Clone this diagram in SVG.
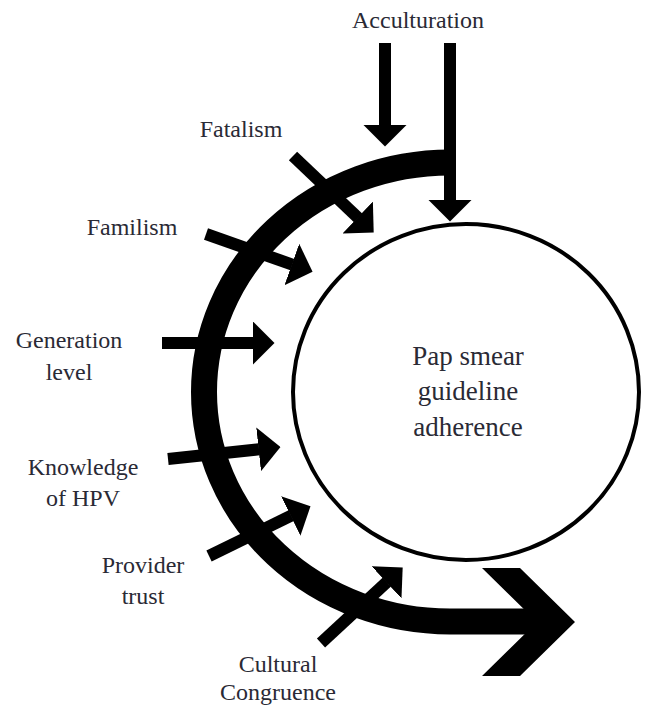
<svg xmlns="http://www.w3.org/2000/svg" width="645" height="706" viewBox="0 0 645 706">
  <style>
    .label { font-family: "Liberation Serif", "Times New Roman", serif; font-size: 24px; fill: #2a2a35; text-anchor: middle; }
    .center-label { font-family: "Liberation Serif", "Times New Roman", serif; font-size: 27px; fill: #2a2a35; text-anchor: middle; }
    .factor { stroke: #000; stroke-width: 12; fill: none; marker-end: url(#head); }
    .band { stroke: #000; stroke-width: 26; fill: none; }
  </style>
  <defs>
    <marker id="head" viewBox="0 0 22 44" refX="0.5" refY="22" markerWidth="22" markerHeight="44" markerUnits="userSpaceOnUse" orient="auto">
      <path d="M0,0 L22,22 L0,44 Z" fill="#000"/>
    </marker>
  </defs>

  <rect width="645" height="706" fill="#fff"/>

  <!-- central outcome -->
  <g id="node-adherence">
    <ellipse cx="466" cy="392" rx="173" ry="168" fill="#fff" stroke="#000" stroke-width="4"/>
    <text class="center-label" x="468" y="365">Pap smear</text>
    <text class="center-label" x="468" y="400">guideline</text>
    <text class="center-label" x="468" y="436">adherence</text>
  </g>

  <!-- curved process band wrapping the outcome -->
  <g id="node-band">
    <path class="band" d="M450,162.5 A246,229.5 0 0 0 204,392 A246,229.5 0 0 0 450,621.5 L548,621.5"/>
    <polygon points="482,568 520,568 575,622 520,676 482,676 537,622" fill="#000"/>
  </g>

  <!-- factor labels -->
  <g id="node-acculturation">
    <text class="label" x="418" y="28">Acculturation</text>
  </g>
  <g id="node-fatalism">
    <text class="label" x="241" y="137">Fatalism</text>
  </g>
  <g id="node-familism">
    <text class="label" x="132" y="235">Familism</text>
  </g>
  <g id="node-generation">
    <text class="label" x="69" y="348">Generation</text>
    <text class="label" x="69" y="380">level</text>
  </g>
  <g id="node-knowledge">
    <text class="label" x="83" y="475">Knowledge</text>
    <text class="label" x="83" y="506">of HPV</text>
  </g>
  <g id="node-provider">
    <text class="label" x="143" y="573">Provider</text>
    <text class="label" x="143" y="604">trust</text>
  </g>
  <g id="node-cultural">
    <text class="label" x="278" y="672">Cultural</text>
    <text class="label" x="278" y="700">Congruence</text>
  </g>

  <!-- influence arrows -->
  <g id="connectors">
    <line class="factor" x1="385" y1="43" x2="385" y2="125"/>
    <line class="factor" x1="450" y1="43" x2="450" y2="200"/>
    <line class="factor" x1="293" y1="156" x2="358.1" y2="217.8"/>
    <line class="factor" x1="206" y1="234" x2="292.3" y2="264.6"/>
    <line class="factor" x1="162" y1="343" x2="253" y2="343"/>
    <line class="factor" x1="168" y1="459" x2="259.1" y2="449.3"/>
    <line class="factor" x1="209" y1="556" x2="291.2" y2="515.7"/>
    <line class="factor" x1="321" y1="643" x2="386.9" y2="582"/>
  </g>
</svg>
